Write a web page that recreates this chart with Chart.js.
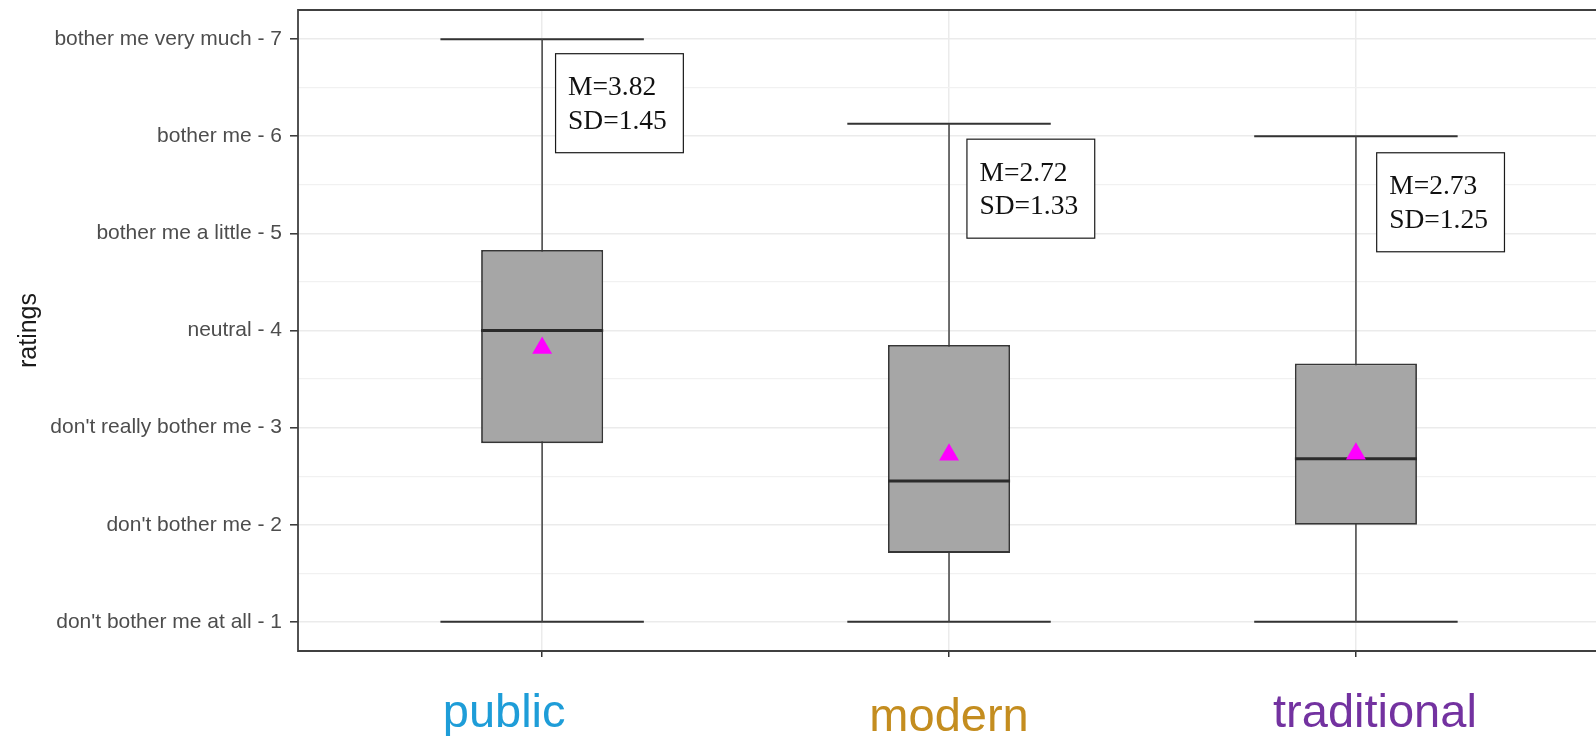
<!DOCTYPE html>
<html>
<head>
<meta charset="utf-8">
<title>ratings by space type</title>
<script src="https://cdn.jsdelivr.net/npm/chart.js@4.4.1/dist/chart.umd.min.js"></script>
<style>
  html, body { margin: 0; padding: 0; background: #ffffff; overflow: hidden; }
  #wrap { width: 1596px; height: 736px; }
</style>
</head>
<body>
<div id="wrap"><canvas id="chart" width="1596" height="736"></canvas></div>
<script>
// ---- data ----
const categories   = ['public', 'modern', 'traditional'];
const whiskerLow   = [1, 1, 1];
const quartile1    = [2.84, 1.71, 2.0];
const medians      = [4.0, 2.45, 2.68];
const quartile3    = [4.83, 3.85, 3.66];
const whiskerHigh  = [7, 6.13, 6];
const means        = [3.82, 2.72, 2.73];
const sds          = [1.45, 1.33, 1.25];
const ratingTicks  = [1, 2, 3, 4, 5, 6, 7];
const ratingLabels = [
  "don't bother me at all - 1",
  "don't bother me - 2",
  "don't really bother me - 3",
  'neutral - 4',
  'bother me a little - 5',
  'bother me - 6',
  'bother me very much - 7'
];

// ---- styling ----
const categoryColors = ['#1e9dd8', '#c48d1f', '#7332a0'];
const BOX_HALF = 0.15;   // half box width, in x units
const CAP_HALF = 0.25;   // half whisker-cap width, in x units
const SANS = "'Liberation Sans', Arial, sans-serif";
const SERIF = "'Liberation Serif', 'Times New Roman', serif";

// ---- derived point lists ----
const pos = categories.map((_, i) => i + 1);
const gap = () => ({ x: null, y: null });

const whiskerPts = pos.flatMap((x, i) => [
  { x, y: whiskerLow[i] }, { x, y: whiskerHigh[i] }, gap()
]);
const capPts = pos.flatMap((x, i) => [
  { x: x - CAP_HALF, y: whiskerLow[i] },  { x: x + CAP_HALF, y: whiskerLow[i] },  gap(),
  { x: x - CAP_HALF, y: whiskerHigh[i] }, { x: x + CAP_HALF, y: whiskerHigh[i] }, gap()
]);
const medianPts = pos.flatMap((x, i) => [
  { x: x - BOX_HALF, y: medians[i] }, { x: x + BOX_HALF, y: medians[i] }, gap()
]);
const boxData  = pos.map((x, i) => ({ x, y: [quartile1[i], quartile3[i]] }));
const meanPts  = pos.map((x, i) => ({ x, y: means[i] }));
const gridSteps = ratingTicks.flatMap(v => v < 7 ? [v, v + 0.5] : [v]);

// panel border, M/SD notes and coloured category names
const overlay = {
  id: 'overlay',
  afterDatasetsDraw(chart, args, opts) {
    const { ctx, scales: { x, y } } = chart;
    ctx.save();
    ctx.font = `${opts.noteSize}px ${SERIF}`;
    categories.forEach((_, i) => {
      const left = x.getPixelForValue(pos[i] + opts.noteDx[i]);
      const top = y.getPixelForValue(opts.noteTop[i]);
      const lines = [`M=${means[i].toFixed(2)}`, `SD=${sds[i].toFixed(2)}`];
      const w = Math.max(...lines.map(t => ctx.measureText(t).width)) + 29;
      const h = 99;
      ctx.fillStyle = '#ffffff';
      ctx.fillRect(left, top, w, h);
      ctx.strokeStyle = '#1a1a1a';
      ctx.lineWidth = 1.2;
      ctx.strokeRect(left, top, w, h);
      ctx.fillStyle = '#111111';
      ctx.textAlign = 'left';
      ctx.textBaseline = 'alphabetic';
      ctx.fillText(lines[0], left + 12.5, top + 41.5);
      ctx.fillText(lines[1], left + 12.5, top + 75);
    });
    ctx.restore();
  },
  afterDraw(chart, args, opts) {
    const { ctx, chartArea: a, scales: { x } } = chart;
    ctx.save();
    // the panel runs past the right edge of the canvas, so only three sides show
    ctx.strokeStyle = '#404040';
    ctx.lineWidth = 1.8;
    ctx.beginPath();
    ctx.moveTo(chart.width + 2, a.top);
    ctx.lineTo(a.left, a.top);
    ctx.lineTo(a.left, a.bottom);
    ctx.lineTo(chart.width + 2, a.bottom);
    ctx.stroke();
    ctx.font = `${opts.labelSize}px ${SANS}`;
    ctx.textAlign = 'center';
    ctx.textBaseline = 'alphabetic';
    categories.forEach((c, i) => {
      ctx.fillStyle = categoryColors[i];
      ctx.fillText(c, x.getPixelForValue(pos[i]) + opts.labelShift[i], a.bottom + opts.labelDrop[i]);
    });
    ctx.restore();
  }
};

const lineStyle = (color, width) => ({
  type: 'line',
  borderColor: color,
  borderWidth: width,
  pointRadius: 0,
  pointHoverRadius: 0,
  spanGaps: false,
  fill: false,
  tension: 0,
  borderCapStyle: 'butt'
});

new Chart(document.getElementById('chart'), {
  type: 'bar',
  data: {
    datasets: [
      { ...lineStyle('#444444', 1.5), label: 'whisker', data: whiskerPts, order: 4 },
      { ...lineStyle('#333333', 2), label: 'cap', data: capPts, order: 4 },
      {
        type: 'bar', label: 'box', data: boxData, order: 2,
        backgroundColor: '#a6a6a6', borderColor: '#363636', borderWidth: 1.8,
        borderSkipped: false, barPercentage: BOX_HALF * 2, categoryPercentage: 1, grouped: false
      },
      { ...lineStyle('#2b2b2b', 3), label: 'median', data: medianPts, order: 1 },
      {
        type: 'line', label: 'mean', data: meanPts, order: 0, showLine: false,
        pointStyle: 'triangle', pointRadius: 11.5, pointHoverRadius: 11.5,
        pointBackgroundColor: '#ff00ff', pointBorderColor: '#ff00ff', pointBorderWidth: 0
      }
    ]
  },
  plugins: [overlay],
  options: {
    responsive: false,
    animation: false,
    events: [],
    layout: { autoPadding: false, padding: { top: 10, right: 0, bottom: 0, left: 0 } },
    plugins: {
      legend: { display: false },
      tooltip: { enabled: false },
      overlay: {
        noteSize: 27.5,
        noteDx: [0.033, 0.044, 0.051],
        noteTop: [6.85, 5.97, 5.83],
        labelSize: 47,
        labelShift: [-38, 0, 19],
        labelDrop: [76, 80, 76]
      }
    },
    scales: {
      x: {
        type: 'linear',
        min: 0.4,
        max: 3.59,
        bounds: 'data',
        offset: false,
        afterBuildTicks: s => { s.ticks = pos.map(v => ({ value: v })); },
        afterFit: s => { s.height = 85; s.paddingLeft = 0; s.paddingRight = 0; },
        ticks: { display: false },
        grid: {
          offset: false,
          color: '#ebebeb',
          lineWidth: 1.5,
          tickLength: 6,
          tickColor: '#333333',
          tickWidth: 1.5
        },
        border: { display: false }
      },
      y: {
        type: 'linear',
        min: 0.7,
        max: 7.3,
        bounds: 'data',
        afterBuildTicks: s => { s.ticks = gridSteps.map(v => ({ value: v })); },
        afterFit: s => { s.width = 298; s.paddingTop = 0; s.paddingBottom = 0; },
        ticks: {
          autoSkip: false,
          padding: 8,
          color: '#4d4d4d',
          font: { family: SANS, size: 21 },
          callback: v => Number.isInteger(v) ? ratingLabels[ratingTicks.indexOf(v)] : ''
        },
        grid: {
          color: c => Number.isInteger(c.tick.value) ? '#ebebeb' : '#f1f1f1',
          lineWidth: c => Number.isInteger(c.tick.value) ? 1.6 : 1.2,
          tickLength: 8,
          tickColor: c => Number.isInteger(c.tick.value) ? '#333333' : 'rgba(0,0,0,0)',
          tickWidth: 1.5
        },
        border: { display: false },
        title: {
          display: true,
          text: 'ratings',
          color: '#1a1a1a',
          font: { family: SANS, size: 25 },
          padding: { top: 14, bottom: 0 }
        }
      }
    }
  }
});
</script>
</body>
</html>
